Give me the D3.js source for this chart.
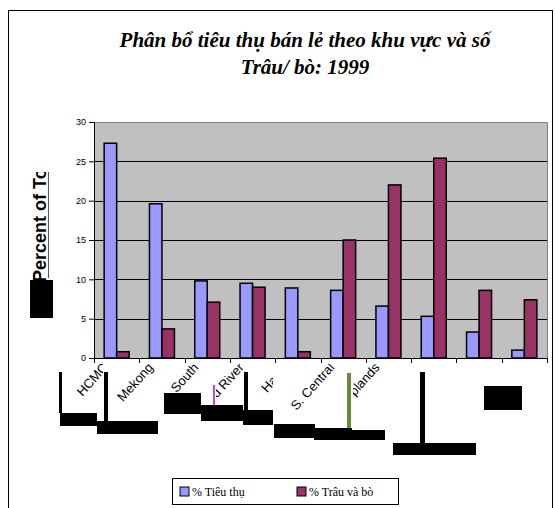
<!DOCTYPE html>
<html><head><meta charset="utf-8">
<script src="https://cdn.jsdelivr.net/npm/d3@7"></script>
<style>body{margin:0;background:#fff}</style>
</head><body>
<script>
const categories = ["HCMC","Mekong","N.E. South","Red River","Hanoi","S. Central","N. Uplands","C. Highlands","N. Central","N.W."];
const seriesNames = ["% Tiêu thụ","% Trâu và bò"];
const consumption = [27.3,19.6,9.8,9.5,8.9,8.6,6.6,5.3,3.3,1.0];
const buffalo = [0.8,3.7,7.1,9.0,0.8,15.0,22.0,25.4,8.6,7.4];
const yTicks = [0,5,10,15,20,25,30];
const titleLines = ["Phân bổ tiêu thụ bán lẻ theo khu vực và số","Trâu/ bò: 1999"];
const yTitle = "Percent of Total";

const SERIF="'Liberation Serif'", SANS="'Liberation Sans'";
const W=555,H=508;
const svg=d3.select("body").append("svg").attr("width",W).attr("height",H);
svg.append("rect").attr("x",8.5).attr("y",10.5).attr("width",544).attr("height",520).attr("fill","#fff").attr("stroke","#000");

const m={l:94,r:547,t:122,b:358};
const x0=d3.scaleBand().domain(categories).range([m.l,m.r]).paddingInner(0.448).paddingOuter(0.224);
const x1=d3.scaleBand().domain(seriesNames).range([0,x0.bandwidth()]);
const y=d3.scaleLinear().domain([0,30]).range([m.b,m.t]);
const colors=["#9999FF","#993366"];

// plot area
svg.append("rect").attr("x",m.l).attr("y",m.t).attr("width",m.r-m.l).attr("height",m.b-m.t).attr("fill","#C0C0C0");
svg.append("path").attr("d",`M${m.l},${m.t+0.5}H${m.r+0.5}V${m.b}`).attr("fill","none").attr("stroke","#808080");
svg.append("g").selectAll("line").data(yTicks.filter(d=>d>0&&d<30)).join("line")
  .attr("x1",m.l).attr("x2",m.r).attr("y1",d=>Math.round(y(d))+0.5).attr("y2",d=>Math.round(y(d))+0.5)
  .attr("stroke","#000");

const data=categories.map((c,i)=>({c,v:[consumption[i],buffalo[i]]}));
svg.append("g").selectAll("g").data(data).join("g")
 .attr("transform",d=>`translate(${x0(d.c)},0)`)
 .selectAll("rect").data(d=>d.v.map((v,j)=>({v,j}))).join("rect")
 .attr("x",d=>x1(seriesNames[d.j])).attr("width",x1.bandwidth())
 .attr("y",d=>y(d.v)).attr("height",d=>y(0)-y(d.v))
 .attr("fill",d=>colors[d.j]).attr("stroke","#000").attr("stroke-width",1.5);

// axes
const ya=svg.append("g").attr("transform",`translate(${m.l},0)`)
 .call(d3.axisLeft(y).tickValues(yTicks).tickSize(5).tickPadding(3));
ya.attr("font-family",SANS).attr("font-size",9);
ya.selectAll("text").attr("fill","#000");
ya.select(".domain").attr("stroke","#000");
const xa=svg.append("g").attr("transform",`translate(0,${m.b})`);
xa.append("line").attr("x1",m.l).attr("x2",m.r+1).attr("y1",0.5).attr("y2",0.5).attr("stroke","#000");
const step=x0.step();
xa.selectAll("line.t").data(d3.range(categories.length+1)).join("line").attr("class","t")
 .attr("x1",i=>Math.round(m.l+i*step)+0.5).attr("x2",i=>Math.round(m.l+i*step)+0.5)
 .attr("y1",0).attr("y2",5).attr("stroke","#000");

// title
svg.append("g").selectAll("text").data(titleLines).join("text")
 .attr("x",305).attr("y",(d,i)=>47+i*27).attr("text-anchor","middle")
 .attr("font-family",SERIF).style("font-family",SERIF).attr("font-weight","bold").attr("font-style","italic")
 .attr("font-size",21).text(d=>d);

// glitchy category labels: each label lives in its own small viewport (nested svg clips it)
const labelBoxes=[
 {cx:62,cy:364,cw:41,ch:49, blk:[[59,372,3,41],[60,413,37,13]]},
 {cx:108,cy:364,cw:50,ch:57, blk:[[104,372,4,50],[97,421,61,13]]},
 {cx:160,cy:364,cw:40,ch:29, blk:[[164,393,37,21]]},
 {cx:216,cy:364,cw:27,ch:41, blk:[[201,405,42,16]]},
 {cx:249,cy:364,cw:24,ch:46, blk:[[244,372,4,38],[243,410,30,15]]},
 {cx:288,cy:364,cw:58,ch:60, blk:[[274,424,41,14],[314,428,38,12]]},
 {cx:353,cy:364,cw:66,ch:66, blk:[[352,430,33,10]]},
 {cx:426,cy:364,cw:50,ch:79, blk:[[420,372,5,73],[393,443,83,12]]},
 {cx:484,cy:362,cw:38,ch:24, blk:[[484,386,38,24]]},
 null
];
categories.forEach((c,i)=>{
  const b=labelBoxes[i]; if(!b) return;
  const cxm=x0(c)+x0.bandwidth()/2;
  const vp=svg.append("svg").attr("x",b.cx).attr("y",b.cy).attr("width",b.cw).attr("height",b.ch).attr("overflow","hidden");
  vp.append("text").attr("transform",`translate(${cxm-8-b.cx},${m.b+10-b.cy}) rotate(-48)`)
   .attr("text-anchor","end").attr("font-family",SANS).attr("font-size",13).text(c);
  b.blk.forEach(r=>svg.append("rect").attr("x",r[0]).attr("y",r[1]).attr("width",r[2]).attr("height",r[3]).attr("fill","#000"));
});
svg.append("rect").attr("x",347).attr("y",373).attr("width",4).attr("height",55).attr("fill","#6a8a3a");
svg.append("rect").attr("x",213).attr("y",385).attr("width",2).attr("height",20).attr("fill","#d040d0");

// y title (clipped by its viewport)
const yv=svg.append("svg").attr("x",28).attr("y",172).attr("width",19).attr("height",108).attr("overflow","hidden");
yv.append("text").attr("transform",`translate(${46-28},${282-172}) rotate(-90)`).attr("font-family",SANS)
 .attr("font-weight","bold").attr("font-size",18).text(yTitle);
svg.append("line").attr("x1",48.5).attr("x2",48.5).attr("y1",172).attr("y2",278).attr("stroke","#555");
svg.append("rect").attr("x",30).attr("y",280).attr("width",23).attr("height",38).attr("fill","#000");

// legend
const lg=svg.append("g");
lg.append("rect").attr("x",172.5).attr("y",478.5).attr("width",226).attr("height",26).attr("fill","#fff").attr("stroke","#000");
const li=lg.selectAll("g").data(seriesNames).join("g").attr("transform",(d,i)=>`translate(${[180,297][i]},487)`);
li.append("rect").attr("width",9).attr("height",9).attr("fill",(d,i)=>colors[i]).attr("stroke","#000");
li.append("text").attr("x",12).attr("y",9).attr("font-family",SERIF).style("font-family",SERIF).attr("font-size",12).text(d=>d);
</script>
</body></html>
